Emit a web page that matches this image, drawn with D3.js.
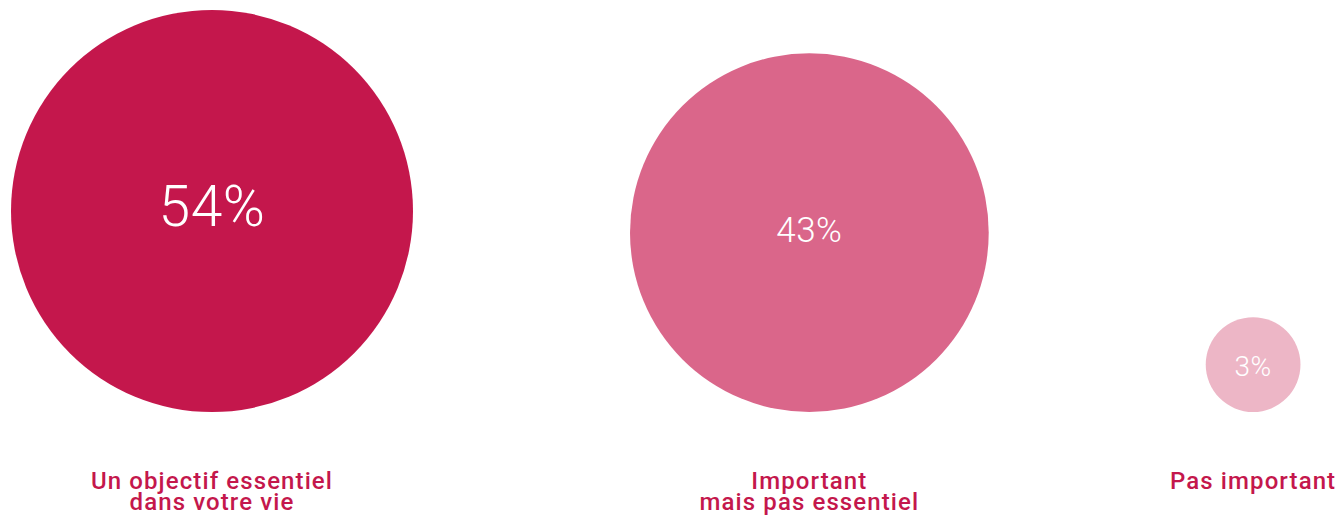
<!DOCTYPE html>
<html>
<head>
<meta charset="utf-8">
<script src="https://cdn.jsdelivr.net/npm/d3@7"></script>
<style>
body { margin: 0; background: #fff; }
svg { display: block; }
</style>
</head>
<body>
<div id="chart"></div>
<script>
var categories = [["Un objectif essentiel", "dans votre vie"], ["Important", "mais pas essentiel"], ["Pas important"]];
var values = [54, 43, 3];
var colors = ["#c4174c", "#da668a", "#edb6c6"];
var valueFontSizes = [57, 35, 28];

var width = 1344, height = 516;
var svg = d3.select('#chart').append('svg')
    .attr('width', width)
    .attr('height', height);

// area proportional radius
var r = d3.scaleSqrt().domain([0, 54]).range([0, 201]);

// circles laid out side by side with equal gaps, bottoms aligned
var gap = 217, left = 11, bottom = 412;
var centers = [];
var x = left;
for (var i = 0; i < values.length; i++){
    var rad = r(values[i]);
    centers.push(x + rad);
    x += 2 * rad + gap;
}

var g = svg.selectAll('g.bubble')
    .data(values).enter()
    .append('g')
    .attr('class', 'bubble')
    .attr('transform', function(d, i){ return 'translate(' + centers[i] + ',' + (bottom - r(d)) + ')'; });

g.append('circle')
    .attr('r', function(d){ return r(d); })
    .attr('fill', function(d, i){ return colors[i]; });

g.append('text')
    .attr('text-anchor', 'middle')
    .attr('dy', function(d, i){ return i === 2 ? '0.4em' : '0.27em'; })
    .attr('fill', '#fff')
    .style('font-family', 'Roboto, sans-serif')
    .style('font-weight', 300)
    .style('letter-spacing', '0.5px')
    .style('font-size', function(d, i){ return valueFontSizes[i] + 'px'; })
    .text(function(d){ return d + '%'; });

var labels = svg.selectAll('text.label')
    .data(categories).enter()
    .append('text')
    .attr('class', 'label')
    .attr('text-anchor', 'middle')
    .attr('fill', '#c4174c')
    .style('font-family', 'Roboto, sans-serif')
    .style('font-weight', 500)
    .style('font-size', '24px')
    .style('letter-spacing', '1.1px')
    .attr('transform', function(d, i){ return 'translate(' + centers[i] + ',489)'; });

labels.selectAll('tspan')
    .data(function(d){ return d; }).enter()
    .append('tspan')
    .attr('x', 0)
    .attr('dy', function(d, j){ return j === 0 ? 0 : 21; })
    .text(function(d){ return d; });
</script>
</body>
</html>
